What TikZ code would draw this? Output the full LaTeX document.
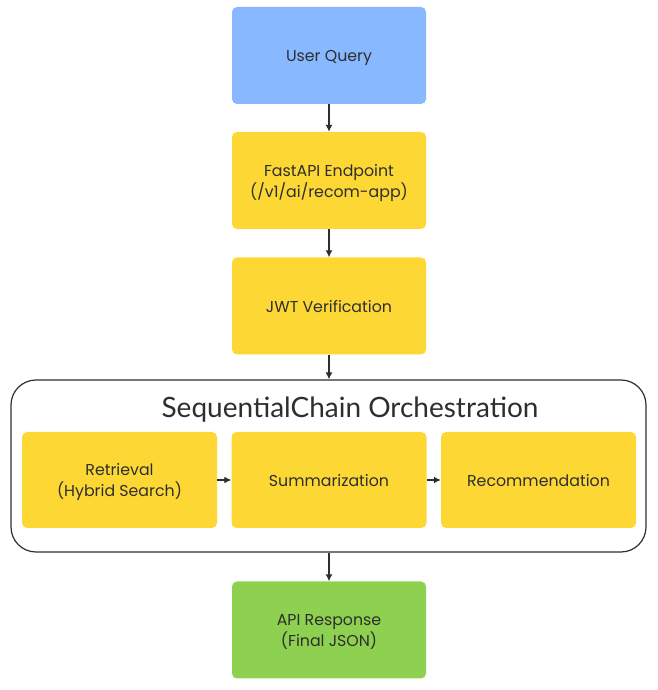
\documentclass[tikz,border=0pt]{standalone}
\usepackage{fontspec}
\setmainfont{Poppins}
\newfontfamily\titlefont{Lato}
\usetikzlibrary{arrows.meta}
\definecolor{queryblue}{HTML}{88B8FF}
\definecolor{stepyellow}{HTML}{FDD835}
\definecolor{respgreen}{HTML}{8ED150}
\definecolor{inkgray}{HTML}{2E2E2E}
\tikzset{stepbox/.style={rectangle,rounded corners=5pt,minimum width=194pt,minimum height=97pt,
    inner sep=0pt,align=center,text=inkgray,font=\fontsize{15.8}{21}\selectfont,text depth=0pt},
  flow/.style={-{Latex[length=7pt,width=7pt]},line width=1.2pt,draw=inkgray}}

\begin{document}
\begin{tikzpicture}[x=1pt,y=1pt]
  \useasboundingbox (0,0) rectangle (657,690);

  % main column
  \node [stepbox,fill=queryblue] (query) at (329,634.5) {User Query};
  \node [stepbox,fill=stepyellow] (fastapi) at (329,509.5) {FastAPI Endpoint\\(/v1/ai/recom-app)};
  \node [stepbox,fill=stepyellow] (jwt) at (329,384) {JWT Verification};

  % chain container
  \node [draw=inkgray,line width=1.2pt,rounded corners=25pt,minimum width=635pt,minimum height=172pt,
    inner sep=0pt] (chain) at (328.5,224) {};
  \node [text=inkgray,font=\titlefont\fontsize{28}{32}\selectfont] (title) at (350,280) {SequentialChain Orchestration};
  \node [stepbox,fill=stepyellow,minimum width=195pt,minimum height=96pt] (retrieval) at (119.5,210) {Retrieval\\(Hybrid Search)};
  \node [stepbox,fill=stepyellow,minimum width=195pt,minimum height=96pt] (summ) at (329,210) {Summarization};
  \node [stepbox,fill=stepyellow,minimum width=195pt,minimum height=96pt] (recom) at (538.5,210) {Recommendation};

  \node [stepbox,fill=respgreen] (response) at (329,60) {API Response\\(Final JSON)};

  \draw [flow] (query) -- (fastapi);
  \draw [flow] (fastapi) -- (jwt);
  \draw [flow] (jwt.south) -- (jwt.south |- chain.north);
  \draw [flow] (retrieval) -- (summ);
  \draw [flow] (summ) -- (recom);
  \draw [flow] (response.north |- chain.south) -- (response.north);
\end{tikzpicture}
\end{document}
